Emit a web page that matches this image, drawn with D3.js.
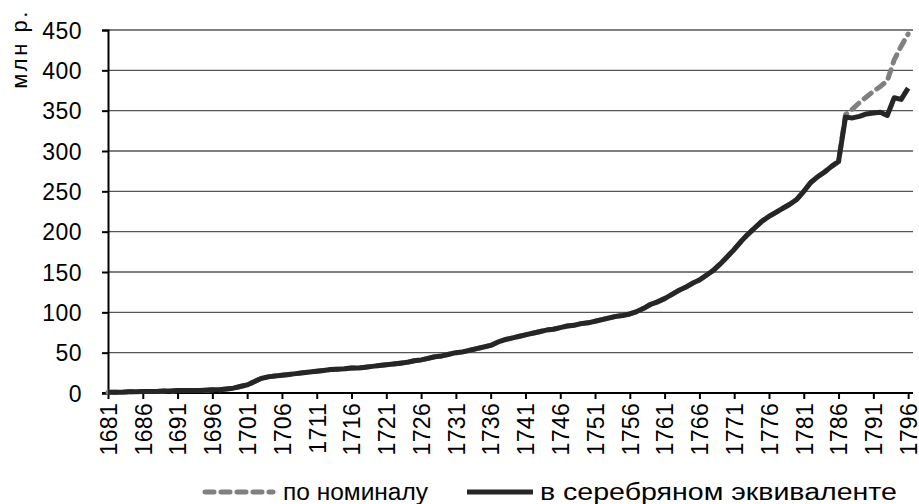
<!DOCTYPE html>
<html lang="ru">
<head>
<meta charset="UTF-8">
<title>млн р.</title>
<script src="https://d3js.org/d3.v7.min.js"></script>
<style>
  html, body { margin: 0; padding: 0; background: #fff; }
  svg text { font-family: "Liberation Sans", Arial, sans-serif; fill: #000; }
</style>
</head>
<body>
<svg id="chart" width="919" height="504"></svg>
<script>
// years 1681..1796
const years = d3.range(1681, 1797);

// silver equivalent, mln rub.
const silver = [
  1, 1, 1, 1.5, 1.5, 2, 2, 2, 2.5, 2.5,            // 1681-1690
  3, 3, 3, 3, 3.5, 4, 4, 5, 6, 8,                  // 1691-1700
  10, 14, 18, 20, 21, 22, 23, 24, 25, 26,          // 1701-1710
  27, 28, 29, 29.5, 30, 31, 31, 32, 33, 34,        // 1711-1720
  35, 36, 37, 38, 40, 41, 43, 45, 46, 48,          // 1721-1730
  50, 51, 53, 55, 57, 59, 63, 66, 68, 70,          // 1731-1740
  72, 74, 76, 78, 79, 81, 83, 84, 86, 87,          // 1741-1750
  89, 91, 93, 95, 96, 98, 101, 105, 110, 113,      // 1751-1760
  117, 122, 127, 131, 136, 140, 146, 152, 160, 169,// 1761-1770
  178, 188, 197, 205, 213, 219, 224, 229, 234, 240,// 1771-1780
  250, 261, 268, 274, 281, 287, 342, 341, 343, 346,// 1781-1790
  347, 348, 344, 366, 364, 378                     // 1791-1796
];

// nominal, differs from 1787 on
const nominal = silver.slice(0, 106).concat([
  345, 352, 360, 367, 374, 380, 387, 413, 430, 445 // 1787-1796
]);

const yTicks = d3.range(0, 451, 50);
const xTicks = d3.range(1681, 1797, 5);

const legendItems = [
  { name: "по номиналу", color: "#808080", dash: "9 7" },
  { name: "в серебряном эквиваленте", color: "#262626", dash: null }
];

const svg = d3.select("#chart");
const mLeft = 108, mRight = 913, mTop = 30, mBottom = 393;

const x = d3.scaleLinear().domain([1681, 1796.7]).range([mLeft, mRight]);
const y = d3.scaleLinear().domain([0, 450]).range([mBottom, mTop]);

// gridlines
svg.append("g")
  .selectAll("line")
  .data(yTicks.filter(d => d > 0))
  .join("line")
    .attr("x1", mLeft).attr("x2", mRight)
    .attr("y1", d => y(d)).attr("y2", d => y(d))
    .attr("stroke", "#555").attr("stroke-width", 1.3);

// y axis
const yAxis = svg.append("g")
  .attr("transform", `translate(${mLeft},0)`)
  .call(d3.axisLeft(y).tickValues(yTicks).tickSize(6).tickPadding(20));
yAxis.select(".domain").attr("stroke", "#000").attr("stroke-width", 2);
yAxis.selectAll(".tick line").attr("stroke", "#000").attr("stroke-width", 2);
yAxis.selectAll(".tick text")
  .style("font-size", "23px")
  .style("letter-spacing", "0.5px")
  .attr("dy", "0.36em");

// x axis
const xAxis = svg.append("g")
  .attr("transform", `translate(0,${mBottom})`)
  .call(d3.axisBottom(x).tickValues(xTicks).tickFormat(d3.format("d")).tickSize(6).tickSizeOuter(0));
xAxis.select(".domain").attr("stroke", "#000").attr("stroke-width", 2)
  .attr("d", `M${mLeft - 6},0H${mRight}`);
xAxis.selectAll(".tick line").attr("stroke", "#000").attr("stroke-width", 2);
xAxis.selectAll(".tick text")
  .style("font-size", "23px")
  .style("letter-spacing", "0.3px")
  .attr("transform", "rotate(-90)")
  .attr("text-anchor", "end")
  .attr("x", -10)
  .attr("y", 0)
  .attr("dy", "0.36em");

// y axis title
svg.append("text")
  .attr("transform", "translate(27,49) rotate(-90)")
  .attr("text-anchor", "middle")
  .style("font-size", "22px")
  .style("letter-spacing", "2.5px")
  .text("млн р.");

const line = d3.line().x((d, i) => x(years[i])).y(d => y(d));

svg.append("path")
  .datum(nominal)
  .attr("d", line)
  .attr("fill", "none")
  .attr("stroke", legendItems[0].color)
  .attr("stroke-width", 5)
  .attr("stroke-dasharray", legendItems[0].dash)
  .attr("stroke-linecap", "round");

svg.append("path")
  .datum(silver)
  .attr("d", line)
  .attr("fill", "none")
  .attr("stroke", legendItems[1].color)
  .attr("stroke-width", 5)
  .attr("stroke-linejoin", "round");

// legend
const legendX = [205, 467];
const legendTextW = [145, 357];
const lg = svg.append("g").selectAll("g")
  .data(legendItems)
  .join("g")
    .attr("transform", (d, i) => `translate(${legendX[i]},492)`);
lg.append("line")
  .attr("x1", 0).attr("x2", d => d.dash ? 68 : 66)
  .attr("stroke", d => d.color)
  .attr("stroke-width", 5)
  .attr("stroke-dasharray", d => d.dash)
  .attr("stroke-linecap", d => d.dash ? "round" : "butt");
lg.append("text")
  .attr("x", (d, i) => i === 0 ? 78 : 73)
  .attr("y", 8)
  .attr("textLength", (d, i) => legendTextW[i])
  .attr("lengthAdjust", "spacingAndGlyphs")
  .style("font-size", "23px")
  .text(d => d.name);
</script>
</body>
</html>
